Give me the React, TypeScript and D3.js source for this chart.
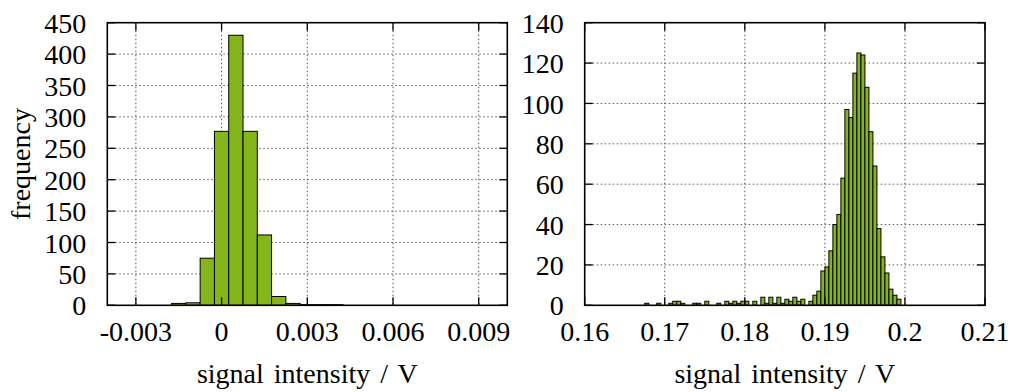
import React from "react";
import * as d3 from "d3";

// ---------- data ----------
const leftTicksX = [-0.003, 0, 0.003, 0.006, 0.009];
const leftTickLabelsX = ["-0.003", "0", "0.003", "0.006", "0.009"];
const leftTicksY = [0, 50, 100, 150, 200, 250, 300, 350, 400, 450];
const leftBinCenters = [-0.0015, -0.001, -0.0005, 0, 0.0005, 0.001, 0.0015, 0.002, 0.0025, 0.003, 0.0035, 0.004];
const leftCounts = [3, 4, 75, 277, 430, 277, 112, 14, 3, 1, 1, 1];
const leftBinWidth = 0.0005;

const rightTicksX = [0.16, 0.17, 0.18, 0.19, 0.2, 0.21];
const rightTickLabelsX = ["0.16", "0.17", "0.18", "0.19", "0.2", "0.21"];
const rightTicksY = [0, 20, 40, 60, 80, 100, 120, 140];
const rightBinStarts = [
  0.1675, 0.169, 0.1705, 0.171, 0.1715, 0.172, 0.1735, 0.174, 0.175, 0.1765,
  0.1775, 0.178, 0.1785, 0.179, 0.1795, 0.18, 0.181, 0.182, 0.1825, 0.183,
  0.1835, 0.184, 0.1845, 0.185, 0.1855, 0.186, 0.1865, 0.187, 0.188, 0.1885,
  0.189, 0.1895, 0.19, 0.1905, 0.191, 0.1915, 0.192, 0.1925, 0.193, 0.1935,
  0.194, 0.1945, 0.195, 0.1955, 0.196, 0.1965, 0.197, 0.1975, 0.198, 0.1985,
  0.199,
];
const rightCounts = [
  1, 1, 1, 2, 2, 1, 1, 1, 2, 1,
  2, 1, 2, 1, 2, 2, 2, 4, 1, 4,
  1, 4, 1, 3, 2, 4, 2, 3, 2, 5,
  7, 17, 19, 27, 40, 45, 63, 97, 93, 115,
  125, 124, 108, 86, 69, 38, 24, 16, 8, 5,
  3,
];
const rightBinWidth = 0.0005;

const xLabel = "signal intensity / V";
const yLabel = "frequency";

// ---------- style ----------
const FONT = '"Liberation Serif", "DejaVu Serif", "Times New Roman", serif';
const FS = 28;
const BAR_FILL = "#84b61c";
const TOP = 22.7;
const BOTTOM = 305.3;

type PanelProps = {
  x0: number; x1: number;
  xDomain: [number, number]; yDomain: [number, number];
  ticksX: number[]; tickLabelsX: string[]; ticksY: number[];
  bars: { x0: number; x1: number; v: number }[];
  showYLabel?: boolean;
};

const txt: React.CSSProperties = { fontFamily: FONT, fontSize: FS };

function Panel(p: PanelProps) {
  const xs = d3.scaleLinear().domain(p.xDomain).range([p.x0, p.x1]);
  const ys = d3.scaleLinear().domain(p.yDomain).range([BOTTOM, TOP]);
  const tl = 8;
  const grid = "#555";
  return (
    <g>
      {p.ticksY.filter((t) => t > p.yDomain[0] && t < p.yDomain[1]).map((t) => (
        <line key={"gy" + t} x1={p.x0} x2={p.x1} y1={ys(t)} y2={ys(t)} stroke={grid} strokeWidth={1} strokeDasharray="1.5,2.5" />
      ))}
      {p.ticksX.filter((t) => xs(t) > p.x0 + 1 && xs(t) < p.x1 - 1).map((t) => (
        <line key={"gx" + t} x1={xs(t)} x2={xs(t)} y1={TOP} y2={BOTTOM} stroke={grid} strokeWidth={1} strokeDasharray="1.5,2.5" />
      ))}
      {p.bars.map((b, i) => (
        <rect key={i} x={xs(b.x0)} y={ys(b.v)} width={xs(b.x1) - xs(b.x0)} height={ys(0) - ys(b.v)}
          fill={BAR_FILL} stroke="#000" strokeWidth={1} />
      ))}
      {p.ticksY.map((t) => (
        <g key={"ty" + t}>
          <line x1={p.x0} x2={p.x0 + tl} y1={ys(t)} y2={ys(t)} stroke="#000" strokeWidth={1.3} />
          <line x1={p.x1} x2={p.x1 - tl} y1={ys(t)} y2={ys(t)} stroke="#000" strokeWidth={1.3} />
          <text x={p.x0 - 21} y={ys(t)} dy="0.36em" textAnchor="end" style={txt}>{t}</text>
        </g>
      ))}
      {p.ticksX.map((t, i) => (
        <g key={"tx" + t}>
          <line x1={xs(t)} x2={xs(t)} y1={BOTTOM} y2={BOTTOM - tl} stroke="#000" strokeWidth={1.3} />
          <line x1={xs(t)} x2={xs(t)} y1={TOP} y2={TOP + tl} stroke="#000" strokeWidth={1.3} />
          <text x={xs(t)} y={341} textAnchor="middle" style={txt}>{p.tickLabelsX[i]}</text>
        </g>
      ))}
      <rect x={p.x0} y={TOP} width={p.x1 - p.x0} height={BOTTOM - TOP} fill="none" stroke="#000" strokeWidth={1.6} />
      <text x={(p.x0 + p.x1) / 2} y={383} textAnchor="middle" style={{ ...txt, wordSpacing: 3 }}>{xLabel}</text>
      {p.showYLabel && (
        <text transform={`translate(30,${(TOP + BOTTOM) / 2}) rotate(-90)`} textAnchor="middle" style={txt}>{yLabel}</text>
      )}
    </g>
  );
}

export default function App() {
  const leftBars = leftBinCenters.map((c, i) => ({ x0: c - leftBinWidth / 2, x1: c + leftBinWidth / 2, v: leftCounts[i] }));
  const rightBars = rightBinStarts.map((s, i) => ({ x0: s, x1: s + rightBinWidth, v: rightCounts[i] }));
  return (
    <svg width={1018} height={392} style={{ position: "absolute", left: 0, top: 0, background: "#fff" }}>
      <rect width={1018} height={392} fill="#fff" />
      <Panel x0={107.3} x1={507.3} xDomain={[-0.004, 0.01]} yDomain={[0, 450]}
        ticksX={leftTicksX} tickLabelsX={leftTickLabelsX} ticksY={leftTicksY} bars={leftBars} showYLabel />
      <Panel x0={584.7} x1={985} xDomain={[0.16, 0.21]} yDomain={[0, 140]}
        ticksX={rightTicksX} tickLabelsX={rightTickLabelsX} ticksY={rightTicksY} bars={rightBars} />
    </svg>
  );
}
